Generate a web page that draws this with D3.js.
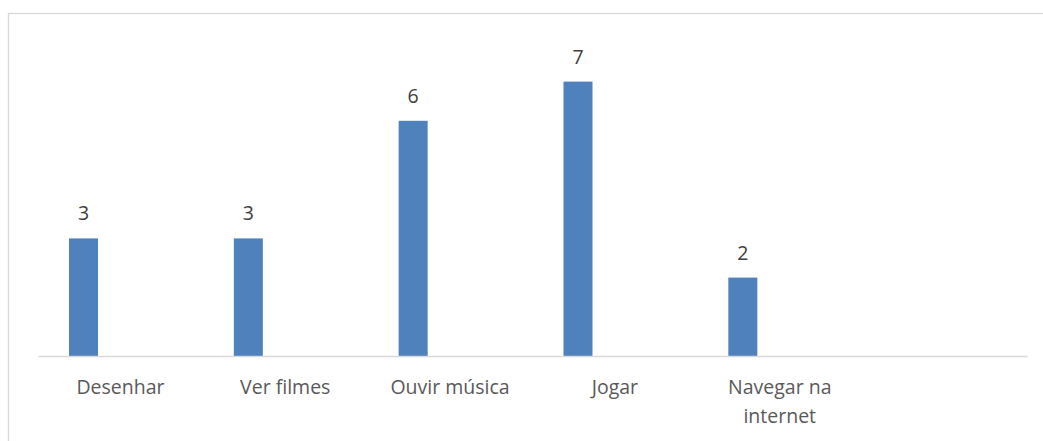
<!DOCTYPE html>
<html>
<head>
<meta charset="utf-8">
<script src="https://cdn.jsdelivr.net/npm/d3@7"></script>
<style>
  html, body { margin:0; padding:0; background:#fff; }
</style>
</head>
<body>
<div id="chart"></div>
<script>
// dados do grafico (ultima categoria fica vazia, como no original)
var categories = ["Desenhar", "Ver filmes", "Ouvir música", "Jogar", "Navegar na internet", ""];
var values = [3, 3, 6, 7, 2, null];
var yTicks = [0, 8];   // dominio do eixo y

var bar_report = {
    column: function(position, size) {
        d3.select('div#' + position).selectAll("svg").remove();
        var svg = d3.select("#" + position)
            .append("svg")
            .attr("width", size.width)
            .attr("height", size.height)
            .attr("style", "font-family:'Open Sans';display:block;");

        // moldura do grafico
        svg.append("rect")
            .attr("x", 8.5)
            .attr("y", 13.5)
            .attr("width", size.width + 10)
            .attr("height", size.height + 10)
            .style("fill", "none")
            .style("stroke", "#d9d9d9")
            .style("stroke-width", 1.3);

        var data = categories.map(function(c, i) { return {cat: c, key: i, value: values[i]}; });

        var x = d3.scaleBand()
            .domain(data.map(function(d) { return d.key; }))
            .range([38, 1027])
            .paddingInner(0)
            .paddingOuter(0);

        var y = d3.scaleLinear()
            .domain(yTicks)
            .range([356, 356 - 8 * 39.2]);

        var bw = x.bandwidth();
        var shown = data.filter(function(d) { return d.value != null; });

        // barras
        svg.append("g")
            .selectAll("rect")
            .data(shown)
            .enter().append("rect")
            .attr("x", function(d) { return x(d.key) + bw * 0.188; })
            .attr("width", bw * 0.176)
            .attr("y", function(d) { return y(d.value); })
            .attr("height", function(d) { return y(0) - y(d.value); })
            .attr("fill", "#4f81bd");

        // rotulos de valor
        svg.append("g")
            .selectAll("text")
            .data(shown)
            .enter().append("text")
            .attr("x", function(d) { return x(d.key) + bw * 0.188 + bw * 0.088; })
            .attr("y", function(d) { return y(d.value) - 18; })
            .attr("text-anchor", "middle")
            .style("font-size", "19.5px")
            .style("fill", "#404040")
            .text(function(d) { return d.value; });

        // eixo x
        var xAxis = svg.append("g")
            .attr("transform", "translate(0," + y(0) + ")")
            .call(d3.axisBottom(x).tickSize(0).tickFormat(""));
        xAxis.select(".domain")
            .attr("stroke", "#d9d9d9")
            .attr("stroke-width", 1.3);

        // rotulos das categorias (quebra em duas linhas quando necessario)
        var labels = svg.append("g")
            .selectAll("text")
            .data(data)
            .enter().append("text")
            .attr("x", function(d) { return x(d.key) + bw / 2; })
            .attr("y", 394)
            .attr("text-anchor", "middle")
            .style("font-size", "19.5px")
            .style("fill", "#595959");

        labels.each(function(d) {
            var t = d3.select(this);
            var lines = d.cat.length > 14 ? ["Navegar na", "internet"] : [d.cat];
            if (d.cat.length > 14) {
                var idx = d.cat.lastIndexOf(" ");
                lines = [d.cat.slice(0, idx), d.cat.slice(idx + 1)];
            }
            lines.forEach(function(l, i) {
                t.append("tspan")
                    .attr("x", x(d.key) + bw / 2)
                    .attr("dy", i == 0 ? 0 : 29)
                    .text(l);
            });
        });
    }
};

bar_report.column("chart", {width: 1043, height: 441});
</script>
</body>
</html>
